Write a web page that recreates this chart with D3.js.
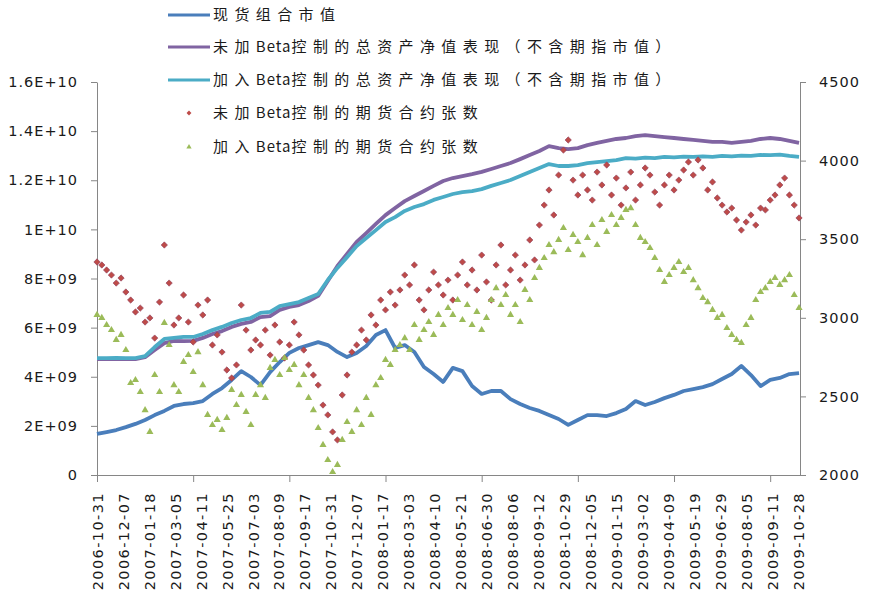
<!DOCTYPE html>
<html>
<head>
<meta charset="utf-8">
<script src="https://d3js.org/d3.v7.min.js"></script>
<style>
body { margin: 0; background: #fff; }
svg text { font-family: "DejaVu Sans", sans-serif; fill: #1a1a1a; }
.axis path, .axis line { stroke: #868686; }
</style>
</head>
<body>
<svg id="chart"></svg>
<script>

// tick labels on the category axis (one every 27 trading days)
var dateLabels = ["2006-10-31","2006-12-07","2007-01-18","2007-03-05","2007-04-11","2007-05-25",
    "2007-07-03","2007-08-09","2007-09-17","2007-10-31","2007-12-07","2008-01-17","2008-03-03",
    "2008-04-10","2008-05-21","2008-06-30","2008-08-06","2008-09-12","2008-10-29","2008-12-05",
    "2009-01-15","2009-03-02","2009-04-09","2009-05-19","2009-06-29","2009-08-05","2009-09-11",
    "2009-10-28"];

// line series, in 1e9 yuan, one value every 10 trading days
var spotValue = [1.67,1.75,1.83,1.95,2.08,2.24,2.44,2.61,2.81,2.89,
    2.93,3.01,3.30,3.54,3.87,4.23,3.99,3.66,4.19,4.60,
    4.97,5.17,5.29,5.41,5.29,5.01,4.80,4.97,5.25,5.70,
    5.90,5.17,5.29,5.01,4.40,4.11,3.79,4.36,4.23,3.62,
    3.30,3.42,3.42,3.09,2.89,2.73,2.61,2.44,2.28,2.04,
    2.24,2.44,2.44,2.40,2.52,2.69,3.01,2.85,2.97,3.13,
    3.26,3.42,3.50,3.58,3.70,3.91,4.11,4.44,4.07,3.62,
    3.87,3.95,4.11,4.15];

var navNoBeta = [4.72,4.72,4.72,4.73,4.72,4.80,5.09,5.37,5.46,5.45,
    5.46,5.58,5.74,5.86,6.03,6.15,6.23,6.43,6.47,6.72,
    6.84,6.92,7.08,7.29,7.90,8.51,9.00,9.49,9.85,10.22,
    10.58,10.87,11.15,11.36,11.56,11.77,11.97,12.09,12.17,12.25,
    12.34,12.46,12.58,12.70,12.86,13.03,13.19,13.39,13.31,13.27,
    13.31,13.43,13.52,13.60,13.68,13.72,13.80,13.84,13.80,13.76,
    13.72,13.68,13.64,13.60,13.56,13.56,13.52,13.56,13.60,13.68,
    13.72,13.68,13.60,13.52];

var navBeta = [4.76,4.76,4.77,4.76,4.76,4.84,5.21,5.54,5.58,5.62,
    5.62,5.74,5.90,6.03,6.19,6.31,6.39,6.60,6.64,6.88,
    6.96,7.04,7.21,7.37,7.94,8.43,8.87,9.32,9.65,9.97,
    10.30,10.50,10.75,10.91,11.03,11.20,11.32,11.44,11.52,11.56,
    11.64,11.77,11.89,12.01,12.17,12.34,12.50,12.66,12.58,12.58,
    12.62,12.70,12.74,12.78,12.82,12.90,12.88,12.92,12.90,12.95,
    12.93,12.96,12.95,12.97,12.95,12.99,12.97,13.00,12.99,13.03,
    13.02,13.04,12.99,12.95];

// futures contracts, one value every 5 trading days
var contractsNoBeta = [3355,3336,3304,3272,3221,3253,3164,3113,3037,3062,
    2973,2999,2871,3100,3463,3221,2954,2999,3145,2973,
    2846,3081,3018,3113,2827,2891,2782,2668,2617,2700,
    3081,2922,2795,2859,2827,2922,2763,2954,2846,2744,
    2827,2973,2891,2795,2700,2636,2572,2445,2382,2274,
    2223,2509,2636,2782,2827,2922,2859,3018,2954,3113,
    3050,3164,3081,3177,3272,3209,3336,3113,3050,3177,
    3291,3209,3145,3240,3113,3272,3355,3209,3304,3177,
    3399,3228,3113,3336,3463,3209,3304,3399,3240,3336,
    3495,3368,3590,3717,3813,3654,3908,4067,4131,3876,
    3781,3908,3813,3749,3927,3845,3972,3781,3889,3717,
    3826,3927,3749,3845,3953,3908,3800,3717,3845,3908,
    3813,3876,3940,3991,3908,4004,3953,3813,3864,3762,
    3717,3673,3698,3622,3558,3609,3654,3590,3698,3686,
    3749,3781,3845,3889,3781,3717,3635];

var contractsBeta = [3018,2999,2954,2922,2859,2891,2795,2585,2604,2528,
    2413,2274,2636,2528,2967,2827,2572,2528,2719,2763,
    2655,2782,2572,2382,2318,2350,2286,2363,2541,2445,
    2509,2401,2318,2509,2572,2490,2681,2732,2636,2744,
    2668,2700,2572,2636,2490,2413,2299,2191,2095,2019,
    2064,2223,2337,2274,2413,2318,2490,2382,2572,2617,
    2732,2700,2795,2827,2871,2795,2954,2859,2922,2973,
    2891,3018,2954,3062,3018,3113,2986,3081,2954,3037,
    2922,2999,3113,3189,3081,3145,3018,3081,2973,3177,
    3113,3253,3317,3380,3463,3418,3495,3571,3431,3527,
    3482,3399,3508,3590,3463,3622,3546,3654,3590,3635,
    3686,3698,3590,3508,3482,3444,3380,3304,3228,3272,
    3317,3355,3291,3317,3240,3189,3126,3100,3050,2999,
    3018,2935,2891,2859,2840,2954,2999,3113,3164,3189,
    3228,3253,3209,3240,3272,3145,3062];

var leftTicks = [0, 2, 4, 6, 8, 10, 12, 14, 16];
var rightTicks = [2000, 2500, 3000, 3500, 4000, 4500];

var legendNames = ["现货组合市值",
    "未加Beta控制的总资产净值表现（不含期指市值）",
    "加入Beta控制的总资产净值表现（不含期指市值）",
    "未加Beta控制的期货合约张数",
    "加入Beta控制的期货合约张数"];

// Variables
var width = 871, height = 595;
var plot = {left: 97, right: 800, top: 82, bottom: 475};
var nDays = 731;
var colors = ["#4a7ebb", "#8064a2", "#4bacc6", "#be4b48", "#9bbb59"];

var svg = d3.select('#chart')
    .attr('width', width)
    .attr('height', height);

var x = d3.scaleLinear().domain([0, nDays]).range([plot.left, plot.right]);
var yL = d3.scaleLinear().domain([0, 16]).range([plot.bottom, plot.top]);
var yR = d3.scaleLinear().domain([2000, 4500]).range([plot.bottom, plot.top]);

// Excel style scientific labels: 2E+09, 1.2E+10 ...
function sci(v) {
    if (v === 0) return "0";
    var n = v * 1e9;
    var e = Math.floor(Math.log10(n) + 1e-9);
    var m = Math.round(n / Math.pow(10, e) * 10) / 10;
    return m + "E+" + (e < 10 ? "0" + e : e);
}

// axes
svg.append('g').attr('class', 'axis')
    .attr('transform', 'translate(' + plot.left + ',0)')
    .call(d3.axisLeft(yL).tickValues(leftTicks).tickFormat(sci)
        .tickSize(6).tickSizeOuter(0).tickPadding(13));

svg.append('g').attr('class', 'axis')
    .attr('transform', 'translate(' + plot.right + ',0)')
    .call(d3.axisRight(yR).tickValues(rightTicks).tickFormat(d3.format('d'))
        .tickSize(6).tickSizeOuter(0).tickPadding(13));

svg.append('g').attr('class', 'axis')
    .attr('transform', 'translate(0,' + plot.bottom + ')')
    .call(d3.axisBottom(x).tickValues(d3.range(0, nDays, 100)).tickFormat('')
        .tickSize(7).tickSizeOuter(0));

svg.selectAll('.axis text')
    .style('font-size', '14.5px')
    .style('letter-spacing', '1px');

// rotated date labels
svg.append('g').attr('class', 'dates')
    .selectAll('text')
    .data(dateLabels)
    .enter().append('text')
    .attr('transform', function (d, i) {
        return 'translate(' + x(i * 27 + 0.5) + ',' + (plot.bottom + 17) + ')rotate(-90)';
    })
    .attr('text-anchor', 'end')
    .attr('dy', '0.36em')
    .style('font-size', '14.5px')
    .style('letter-spacing', '1.4px')
    .text(function (d) { return d; });

// lines (left axis)
var line = d3.line()
    .x(function (d, i) { return x(i * 10); })
    .y(function (d) { return yL(d); });

[spotValue, navNoBeta, navBeta].forEach(function (s, k) {
    svg.append('path')
        .datum(s)
        .attr('d', line)
        .attr('fill', 'none')
        .attr('stroke', colors[k])
        .attr('stroke-width', 3.8)
        .attr('stroke-linejoin', 'round');
});

// scatter (right axis)
var diamond = d3.symbol(d3.symbolSquare, 20);
var triangle = d3.symbol(d3.symbolTriangle, 22);

svg.append('g').selectAll('path')
    .data(contractsNoBeta)
    .enter().append('path')
    .attr('d', diamond)
    .attr('transform', function (d, i) {
        return 'translate(' + x(i * 5) + ',' + yR(d) + ')rotate(45)';
    })
    .attr('fill', colors[3])
    .attr('stroke', '#8e3f5e')
    .attr('stroke-width', 0.6);

svg.append('g').selectAll('path')
    .data(contractsBeta)
    .enter().append('path')
    .attr('d', triangle)
    .attr('transform', function (d, i) {
        return 'translate(' + x(i * 5) + ',' + yR(d) + ')';
    })
    .attr('fill', colors[4]);

// legend
var legend = svg.append('g').attr('class', 'legend');
var rowY = [15, 47, 80, 113, 147];

legendNames.forEach(function (name, k) {
    var row = legend.append('g').attr('transform', 'translate(0,' + rowY[k] + ')');
    if (k < 3) {
        row.append('line')
            .attr('x1', 168).attr('x2', 210)
            .attr('stroke', colors[k]).attr('stroke-width', 3);
    } else {
        row.append('path')
            .attr('d', d3.symbol(k === 3 ? d3.symbolSquare : d3.symbolTriangle, 12))
            .attr('transform', 'translate(189,0)' + (k === 3 ? 'rotate(45)' : ''))
            .attr('fill', colors[k]);
    }
    var t = row.append('text')
        .attr('x', 213)
        .attr('dy', '0.36em')
        .style('font-family', '"Noto Sans CJK SC", sans-serif')
        .style('font-size', '15px');
    // CJK characters are spaced wide, latin runs are not
    name.match(/[A-Za-z]+|[^A-Za-z]+/g).forEach(function (run) {
        t.append('tspan')
            .style('letter-spacing', /[A-Za-z]/.test(run) ? '1px' : '6.4px')
            .text(run);
    });
});

</script>
</body>
</html>
